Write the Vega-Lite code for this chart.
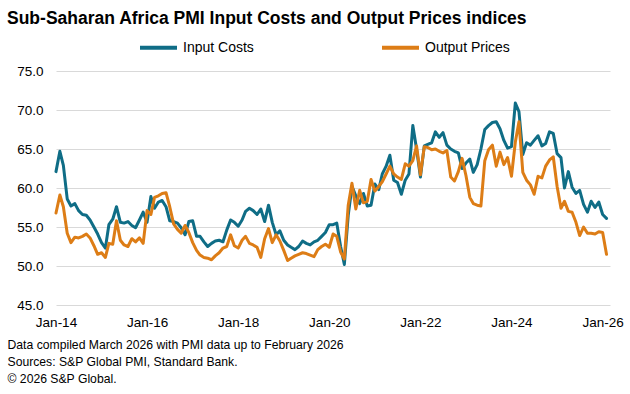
{
  "$schema": "https://vega.github.io/schema/vega-lite/v6.json",
  "width": 554,
  "height": 234,
  "autosize": {"type": "none"},
  "padding": {"left": 56, "top": 71, "right": 20, "bottom": 89},
  "background": "white",
  "config": {"view": {"stroke": null}, "font": "Liberation Sans"},
  "title": {
    "text": "Sub-Saharan Africa PMI Input Costs and Output Prices indices",
    "anchor": "start",
    "frame": "group",
    "dx": -49,
    "offset": 0,
    "fontSize": 17.5,
    "fontWeight": "bold",
    "color": "#000000",
    "font": "Liberation Sans"
  },
  "data": {
    "values": [
      {"date": "2014-01-01", "Input Costs": 62.1, "Output Prices": 56.8},
      {"date": "2014-02-01", "Input Costs": 64.7, "Output Prices": 59.1},
      {"date": "2014-03-01", "Input Costs": 62.9, "Output Prices": 57.6},
      {"date": "2014-04-01", "Input Costs": 58.6, "Output Prices": 54.2},
      {"date": "2014-05-01", "Input Costs": 57.7, "Output Prices": 53.0},
      {"date": "2014-06-01", "Input Costs": 58.0, "Output Prices": 53.7},
      {"date": "2014-07-01", "Input Costs": 57.1, "Output Prices": 53.6},
      {"date": "2014-08-01", "Input Costs": 56.6, "Output Prices": 53.8},
      {"date": "2014-09-01", "Input Costs": 56.5, "Output Prices": 54.1},
      {"date": "2014-10-01", "Input Costs": 55.9, "Output Prices": 53.6},
      {"date": "2014-11-01", "Input Costs": 55.0, "Output Prices": 52.6},
      {"date": "2014-12-01", "Input Costs": 54.1, "Output Prices": 51.5},
      {"date": "2015-01-01", "Input Costs": 53.0, "Output Prices": 51.7},
      {"date": "2015-02-01", "Input Costs": 52.3, "Output Prices": 51.1},
      {"date": "2015-03-01", "Input Costs": 55.3, "Output Prices": 52.9},
      {"date": "2015-04-01", "Input Costs": 56.0, "Output Prices": 52.8},
      {"date": "2015-05-01", "Input Costs": 57.6, "Output Prices": 55.8},
      {"date": "2015-06-01", "Input Costs": 55.6, "Output Prices": 53.3},
      {"date": "2015-07-01", "Input Costs": 55.5, "Output Prices": 52.7},
      {"date": "2015-08-01", "Input Costs": 55.7, "Output Prices": 52.5},
      {"date": "2015-09-01", "Input Costs": 55.2, "Output Prices": 53.5},
      {"date": "2015-10-01", "Input Costs": 54.9, "Output Prices": 53.1},
      {"date": "2015-11-01", "Input Costs": 55.9, "Output Prices": 53.6},
      {"date": "2015-12-01", "Input Costs": 56.9, "Output Prices": 52.9},
      {"date": "2016-01-01", "Input Costs": 55.6, "Output Prices": 57.1},
      {"date": "2016-02-01", "Input Costs": 58.9, "Output Prices": 56.6},
      {"date": "2016-03-01", "Input Costs": 57.4, "Output Prices": 58.8},
      {"date": "2016-04-01", "Input Costs": 58.2, "Output Prices": 59.0},
      {"date": "2016-05-01", "Input Costs": 58.4, "Output Prices": 59.3},
      {"date": "2016-06-01", "Input Costs": 57.6, "Output Prices": 59.4},
      {"date": "2016-07-01", "Input Costs": 55.8, "Output Prices": 57.6},
      {"date": "2016-08-01", "Input Costs": 55.7, "Output Prices": 55.4},
      {"date": "2016-09-01", "Input Costs": 55.5, "Output Prices": 54.7},
      {"date": "2016-10-01", "Input Costs": 54.9, "Output Prices": 54.2},
      {"date": "2016-11-01", "Input Costs": 54.0, "Output Prices": 55.2},
      {"date": "2016-12-01", "Input Costs": 55.7, "Output Prices": 54.3},
      {"date": "2017-01-01", "Input Costs": 55.8, "Output Prices": 53.0},
      {"date": "2017-02-01", "Input Costs": 53.8, "Output Prices": 52.0},
      {"date": "2017-03-01", "Input Costs": 53.8, "Output Prices": 51.4},
      {"date": "2017-04-01", "Input Costs": 53.1, "Output Prices": 51.1},
      {"date": "2017-05-01", "Input Costs": 52.5, "Output Prices": 51.0},
      {"date": "2017-06-01", "Input Costs": 52.9, "Output Prices": 50.8},
      {"date": "2017-07-01", "Input Costs": 53.2, "Output Prices": 51.3},
      {"date": "2017-08-01", "Input Costs": 53.3, "Output Prices": 51.7},
      {"date": "2017-09-01", "Input Costs": 53.1, "Output Prices": 52.3},
      {"date": "2017-10-01", "Input Costs": 54.6, "Output Prices": 52.5},
      {"date": "2017-11-01", "Input Costs": 55.9, "Output Prices": 54.0},
      {"date": "2017-12-01", "Input Costs": 55.6, "Output Prices": 52.6},
      {"date": "2018-01-01", "Input Costs": 55.1, "Output Prices": 52.3},
      {"date": "2018-02-01", "Input Costs": 55.9, "Output Prices": 53.3},
      {"date": "2018-03-01", "Input Costs": 57.0, "Output Prices": 53.8},
      {"date": "2018-04-01", "Input Costs": 57.4, "Output Prices": 52.9},
      {"date": "2018-05-01", "Input Costs": 57.1, "Output Prices": 52.7},
      {"date": "2018-06-01", "Input Costs": 56.6, "Output Prices": 52.4},
      {"date": "2018-07-01", "Input Costs": 57.3, "Output Prices": 51.1},
      {"date": "2018-08-01", "Input Costs": 55.7, "Output Prices": 53.5},
      {"date": "2018-09-01", "Input Costs": 57.8, "Output Prices": 54.8},
      {"date": "2018-10-01", "Input Costs": 55.6, "Output Prices": 53.0},
      {"date": "2018-11-01", "Input Costs": 54.0, "Output Prices": 54.0},
      {"date": "2018-12-01", "Input Costs": 54.5, "Output Prices": 53.2},
      {"date": "2019-01-01", "Input Costs": 53.3, "Output Prices": 52.0},
      {"date": "2019-02-01", "Input Costs": 52.7, "Output Prices": 50.7},
      {"date": "2019-03-01", "Input Costs": 52.4, "Output Prices": 51.0},
      {"date": "2019-04-01", "Input Costs": 52.1, "Output Prices": 51.3},
      {"date": "2019-05-01", "Input Costs": 52.5, "Output Prices": 51.5},
      {"date": "2019-06-01", "Input Costs": 53.2, "Output Prices": 51.7},
      {"date": "2019-07-01", "Input Costs": 52.9, "Output Prices": 51.6},
      {"date": "2019-08-01", "Input Costs": 52.7, "Output Prices": 51.4},
      {"date": "2019-09-01", "Input Costs": 53.1, "Output Prices": 51.2},
      {"date": "2019-10-01", "Input Costs": 53.3, "Output Prices": 52.1},
      {"date": "2019-11-01", "Input Costs": 53.8, "Output Prices": 52.5},
      {"date": "2019-12-01", "Input Costs": 54.3, "Output Prices": 52.8},
      {"date": "2020-01-01", "Input Costs": 55.3, "Output Prices": 52.4},
      {"date": "2020-02-01", "Input Costs": 55.3, "Output Prices": 54.1},
      {"date": "2020-03-01", "Input Costs": 55.5, "Output Prices": 53.8},
      {"date": "2020-04-01", "Input Costs": 52.5, "Output Prices": 51.8},
      {"date": "2020-05-01", "Input Costs": 50.2, "Output Prices": 50.9},
      {"date": "2020-06-01", "Input Costs": 56.5, "Output Prices": 57.8},
      {"date": "2020-07-01", "Input Costs": 60.2, "Output Prices": 60.6},
      {"date": "2020-08-01", "Input Costs": 59.0, "Output Prices": 57.3},
      {"date": "2020-09-01", "Input Costs": 58.0, "Output Prices": 59.7},
      {"date": "2020-10-01", "Input Costs": 59.3, "Output Prices": 58.1},
      {"date": "2020-11-01", "Input Costs": 57.7, "Output Prices": 58.3},
      {"date": "2020-12-01", "Input Costs": 57.8, "Output Prices": 61.1},
      {"date": "2021-01-01", "Input Costs": 60.5, "Output Prices": 59.6},
      {"date": "2021-02-01", "Input Costs": 59.8, "Output Prices": 60.2},
      {"date": "2021-03-01", "Input Costs": 61.8, "Output Prices": 60.8},
      {"date": "2021-04-01", "Input Costs": 62.8, "Output Prices": 61.8},
      {"date": "2021-05-01", "Input Costs": 64.2, "Output Prices": 62.8},
      {"date": "2021-06-01", "Input Costs": 61.0, "Output Prices": 61.8},
      {"date": "2021-07-01", "Input Costs": 60.7, "Output Prices": 61.4},
      {"date": "2021-08-01", "Input Costs": 59.2, "Output Prices": 61.1},
      {"date": "2021-09-01", "Input Costs": 61.0, "Output Prices": 63.1},
      {"date": "2021-10-01", "Input Costs": 61.8, "Output Prices": 62.8},
      {"date": "2021-11-01", "Input Costs": 68.0, "Output Prices": 63.5},
      {"date": "2021-12-01", "Input Costs": 65.0, "Output Prices": 65.4},
      {"date": "2022-01-01", "Input Costs": 61.4, "Output Prices": 61.7},
      {"date": "2022-02-01", "Input Costs": 65.4, "Output Prices": 65.3},
      {"date": "2022-03-01", "Input Costs": 65.6, "Output Prices": 65.2},
      {"date": "2022-04-01", "Input Costs": 65.8, "Output Prices": 64.9},
      {"date": "2022-05-01", "Input Costs": 67.2, "Output Prices": 65.0},
      {"date": "2022-06-01", "Input Costs": 66.5, "Output Prices": 64.7},
      {"date": "2022-07-01", "Input Costs": 67.1, "Output Prices": 64.5},
      {"date": "2022-08-01", "Input Costs": 65.5, "Output Prices": 64.8},
      {"date": "2022-09-01", "Input Costs": 65.0, "Output Prices": 61.4},
      {"date": "2022-10-01", "Input Costs": 64.7, "Output Prices": 60.9},
      {"date": "2022-11-01", "Input Costs": 64.5, "Output Prices": 62.1},
      {"date": "2022-12-01", "Input Costs": 62.5, "Output Prices": 63.8},
      {"date": "2023-01-01", "Input Costs": 63.2, "Output Prices": 61.6},
      {"date": "2023-02-01", "Input Costs": 63.7, "Output Prices": 58.8},
      {"date": "2023-03-01", "Input Costs": 62.0, "Output Prices": 58.0},
      {"date": "2023-04-01", "Input Costs": 63.0, "Output Prices": 57.8},
      {"date": "2023-05-01", "Input Costs": 65.0, "Output Prices": 57.7},
      {"date": "2023-06-01", "Input Costs": 67.5, "Output Prices": 63.5},
      {"date": "2023-07-01", "Input Costs": 68.0, "Output Prices": 64.9},
      {"date": "2023-08-01", "Input Costs": 68.4, "Output Prices": 65.5},
      {"date": "2023-09-01", "Input Costs": 68.5, "Output Prices": 62.8},
      {"date": "2023-10-01", "Input Costs": 67.6, "Output Prices": 64.6},
      {"date": "2023-11-01", "Input Costs": 66.1, "Output Prices": 63.0},
      {"date": "2023-12-01", "Input Costs": 65.1, "Output Prices": 63.9},
      {"date": "2024-01-01", "Input Costs": 65.3, "Output Prices": 61.5},
      {"date": "2024-02-01", "Input Costs": 70.9, "Output Prices": 65.9},
      {"date": "2024-03-01", "Input Costs": 69.8, "Output Prices": 68.5},
      {"date": "2024-04-01", "Input Costs": 64.3, "Output Prices": 62.0},
      {"date": "2024-05-01", "Input Costs": 65.8, "Output Prices": 61.0},
      {"date": "2024-06-01", "Input Costs": 65.5, "Output Prices": 60.4},
      {"date": "2024-07-01", "Input Costs": 66.1, "Output Prices": 59.2},
      {"date": "2024-08-01", "Input Costs": 66.7, "Output Prices": 61.5},
      {"date": "2024-09-01", "Input Costs": 65.4, "Output Prices": 61.3},
      {"date": "2024-10-01", "Input Costs": 65.7, "Output Prices": 62.8},
      {"date": "2024-11-01", "Input Costs": 67.2, "Output Prices": 63.6},
      {"date": "2024-12-01", "Input Costs": 67.0, "Output Prices": 64.0},
      {"date": "2025-01-01", "Input Costs": 64.4, "Output Prices": 60.2},
      {"date": "2025-02-01", "Input Costs": 63.9, "Output Prices": 57.4},
      {"date": "2025-03-01", "Input Costs": 60.0, "Output Prices": 58.3},
      {"date": "2025-04-01", "Input Costs": 62.1, "Output Prices": 57.0},
      {"date": "2025-05-01", "Input Costs": 60.1, "Output Prices": 56.9},
      {"date": "2025-06-01", "Input Costs": 59.3, "Output Prices": 55.6},
      {"date": "2025-07-01", "Input Costs": 59.7, "Output Prices": 53.9},
      {"date": "2025-08-01", "Input Costs": 57.9, "Output Prices": 55.0},
      {"date": "2025-09-01", "Input Costs": 56.9, "Output Prices": 54.2},
      {"date": "2025-10-01", "Input Costs": 58.3, "Output Prices": 54.2},
      {"date": "2025-11-01", "Input Costs": 57.5, "Output Prices": 54.1},
      {"date": "2025-12-01", "Input Costs": 58.2, "Output Prices": 54.4},
      {"date": "2026-01-01", "Input Costs": 56.6, "Output Prices": 54.3},
      {"date": "2026-02-01", "Input Costs": 56.1, "Output Prices": 51.5}
    ]
  },
  "transform": [{"fold": ["Input Costs", "Output Prices"], "as": ["series", "value"]}],
  "mark": {"type": "line", "strokeWidth": 3, "strokeJoin": "round", "strokeCap": "round"},
  "encoding": {
    "x": {
      "field": "date",
      "type": "temporal",
      "scale": {
        "type": "utc",
        "domain": [
          {"year": 2014, "month": 1, "date": 1, "utc": true},
          {"year": 2026, "month": 3, "date": 1, "utc": true}
        ]
      },
      "axis": {
        "values": [
          {"year": 2014, "month": 1, "date": 1, "utc": true},
          {"year": 2016, "month": 1, "date": 1, "utc": true},
          {"year": 2018, "month": 1, "date": 1, "utc": true},
          {"year": 2020, "month": 1, "date": 1, "utc": true},
          {"year": 2022, "month": 1, "date": 1, "utc": true},
          {"year": 2024, "month": 1, "date": 1, "utc": true},
          {"year": 2026, "month": 1, "date": 1, "utc": true}
        ],
        "labelExpr": "utcFormat(datum.value, '%b-%y')",
        "labelFontSize": 13.5,
        "labelFont": "Liberation Sans",
        "labelColor": "#000000",
        "labelPadding": 10,
        "labelFlush": false,
        "labelOverlap": false,
        "ticks": false,
        "tickSize": 0,
        "domain": false,
        "grid": false,
        "title": [
          "Data compiled March 2026 with PMI data up to February 2026",
          "Sources: S&P Global PMI, Standard Bank.",
          "© 2026 S&P Global."
        ],
        "titleAnchor": "start",
        "titleAlign": "left",
        "titleBaseline": "top",
        "titleX": -49,
        "titleY": 33,
        "titleFont": "Liberation Sans",
        "titleFontSize": 12.2,
        "titleFontWeight": "normal",
        "titleLineHeight": 17,
        "titleColor": "#000000"
      }
    },
    "y": {
      "field": "value",
      "type": "quantitative",
      "scale": {"domain": [45, 75], "nice": false, "zero": false},
      "axis": {
        "values": [45, 50, 55, 60, 65, 70, 75],
        "format": ".1f",
        "grid": true,
        "gridColor": "#d9d9d9",
        "gridWidth": 1,
        "domain": false,
        "ticks": false,
        "tickSize": 0,
        "labelPadding": 13,
        "labelFontSize": 13.5,
        "labelFont": "Liberation Sans",
        "labelColor": "#000000",
        "title": null
      }
    },
    "color": {
      "field": "series",
      "type": "nominal",
      "scale": {"domain": ["Input Costs", "Output Prices"], "range": ["#0f6d86", "#dd7d16"]},
      "legend": {
        "orient": "none",
        "legendX": 82,
        "legendY": -44,
        "direction": "horizontal",
        "title": null,
        "padding": 0,
        "symbolType": "stroke",
        "symbolSize": 1369,
        "symbolStrokeWidth": 4,
        "labelFontSize": 14,
        "labelFont": "Liberation Sans",
        "labelColor": "#000000",
        "labelOffset": 4,
        "columnPadding": 120
      }
    }
  }
}
